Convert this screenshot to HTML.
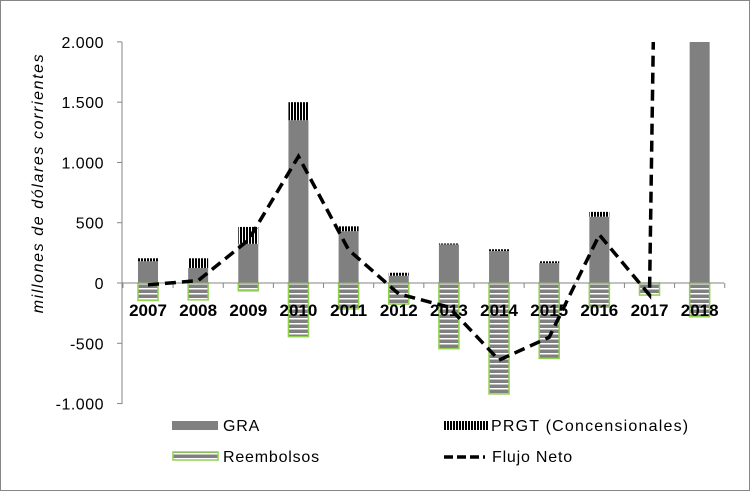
<!DOCTYPE html>
<html><head><meta charset="utf-8"><style>
body{margin:0;background:#fff}
svg{display:block;font-family:"Liberation Sans",sans-serif}
</style></head><body>
<svg width="750" height="491" viewBox="0 0 750 491">
<defs>
<pattern id="hstripe" width="4" height="5" patternUnits="userSpaceOnUse"><rect width="4" height="5" fill="#808080"/><rect y="3" width="4" height="1.5" fill="#fff"/></pattern>
<pattern id="vstripe" width="3" height="4" patternUnits="userSpaceOnUse"><rect width="3" height="4" fill="#000"/><rect x="2" width="1" height="4" fill="#fff"/></pattern>
<clipPath id="plotclip"><rect x="122" y="42" width="620" height="362"/></clipPath>
</defs>
<rect x="0.5" y="0.5" width="749" height="490" fill="#fff" stroke="#868686"/>
<text transform="translate(43,183) rotate(-90)" text-anchor="middle" font-size="16" font-style="italic" letter-spacing="1.6">millones de dólares corrientes</text>
<g id="yaxis"></g>
<g id="bars" clip-path="url(#plotclip)"></g>
<g id="xaxis"></g>
<g id="line" clip-path="url(#plotclip)"></g>
<g>
 <g><rect x="172" y="421" width="46" height="9" fill="#808080"/><text x="223" y="431" font-size="16" letter-spacing="0.8">GRA</text></g>
 <g><rect x="444" y="421" width="44" height="9" fill="url(#vstripe)"/><text x="491" y="431" font-size="16" letter-spacing="1.2">PRGT (Concensionales)</text></g>
 <g><rect x="173" y="452" width="45" height="8" fill="url(#hstripe)" stroke="#92d050" stroke-width="1.5"/><text x="223" y="462" font-size="16" letter-spacing="0.8">Reembolsos</text></g>
 <g><line x1="444" y1="457" x2="485" y2="457" stroke="#000" stroke-width="3.5" stroke-dasharray="9,4"/><text x="492" y="462" font-size="16" letter-spacing="0.8">Flujo Neto</text></g>
</g>
</svg>
<script>
const years=["2007","2008","2009","2010","2011","2012","2013","2014","2015","2016","2017","2018"];
const gra=[180,125,325,1350,430,60,320,265,165,550,0,28000];
const prgt=[25,80,140,150,40,25,8,15,15,40,0,0];
const reembolsos=[-145,-140,-65,-445,-215,-175,-545,-920,-625,-200,-100,-280];
const flujo=[-15,20,355,1050,275,-90,-200,-640,-450,400,-100,27700];
const yTicks=[2000,1500,1000,500,0,-500,-1000];
const yTickLabels=["2.000","1.500","1.000","500","0","-500","-1.000"];
const NS="http://www.w3.org/2000/svg";
const y=v=>283-v*0.12055;
const x=i=>148+i*50.15;
const bw=20;
function mk(t,a,p){const e=document.createElementNS(NS,t);for(const k in a)e.setAttribute(k,a[k]);p.appendChild(e);return e;}
const ya=document.getElementById('yaxis');
mk('line',{x1:122,y1:42,x2:122,y2:404,stroke:'#868686'},ya);
yTicks.forEach((v,i)=>{
 const t=mk('line',{x1:117,y1:y(v),x2:122,y2:y(v),stroke:'#868686'},ya);
 
 
 const l=mk('text',{x:104,y:y(v)+6,'text-anchor':'end','font-size':16,'letter-spacing':0.5},ya);
 l.textContent=yTickLabels[i];
 
 
});
const bg=document.getElementById('bars');
years.forEach((yr,i)=>{
 const cx=x(i);
 if(gra[i]>0){const r=mk('rect',{x:cx-bw/2,y:y(gra[i]),width:bw,height:y(0)-y(gra[i]),fill:'#808080'},bg);
 
 }
 if(prgt[i]>0){const top=gra[i]+prgt[i];const r=mk('rect',{x:cx-bw/2,y:y(top),width:bw,height:y(gra[i])-y(top),fill:'url(#vstripe)'},bg);
 
 }
 const r=mk('rect',{x:cx-bw/2,y:y(0),width:bw,height:y(reembolsos[i])-y(0),fill:'url(#hstripe)',stroke:'#92d050','stroke-width':1.5},bg);
 
 
});
const xa=document.getElementById('xaxis');
mk('line',{x1:122,y1:283,x2:724,y2:283,stroke:'#868686'},xa);
for(let i=0;i<=years.length;i++){const xx=x(i)-25.07;mk('line',{x1:xx,y1:283,x2:xx,y2:288,stroke:'#868686'},xa);}
years.forEach((yr,i)=>{
 const t=mk('text',{x:x(i),y:316,'text-anchor':'middle','font-size':17,'font-weight':'bold'},xa);
 t.textContent=yr;
 
 
});
const lg=document.getElementById('line');
const pts=flujo.map((v,i)=>x(i)+','+y(v)).join(' ');
const pl=mk('polyline',{points:pts,fill:'none',stroke:'#000','stroke-width':3.5,'stroke-dasharray':'11,6'},lg);


</script>
</body></html>
